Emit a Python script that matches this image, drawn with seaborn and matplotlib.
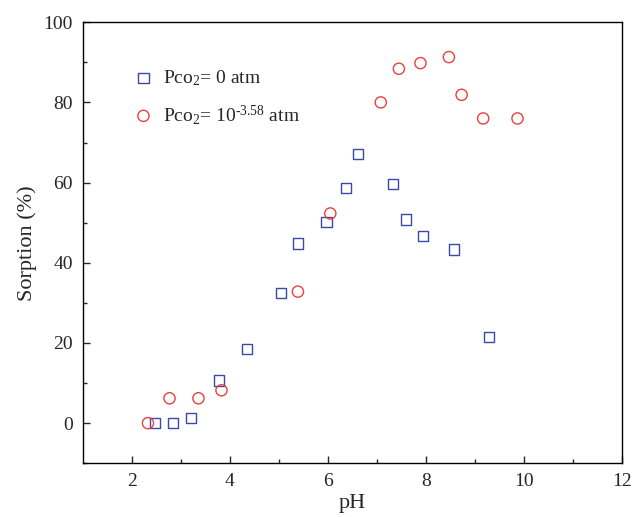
import matplotlib
matplotlib.use("Agg")
import matplotlib.pyplot as plt
import seaborn as sns
import pandas as pd

ph_co2_0 = [2.48, 2.84, 3.21, 3.78, 4.35, 5.04, 5.39, 5.97, 6.37, 6.61, 7.33, 7.59, 7.94, 8.58, 9.29]
sorp_co2_0 = [0.0, 0.0, 1.2, 10.6, 18.5, 32.4, 44.8, 50.2, 58.7, 67.1, 59.6, 50.8, 46.7, 43.3, 21.5]

ph_co2_atm = [2.33, 2.77, 3.36, 3.83, 5.39, 6.05, 7.08, 7.45, 7.89, 8.47, 8.73, 9.17, 9.87]
sorp_co2_atm = [0.0, 6.2, 6.2, 8.2, 32.8, 52.3, 80.0, 88.4, 89.8, 91.3, 81.9, 76.0, 76.0]

labels = [r"Pco$_2$= 0 atm", r"Pco$_2$= 10$^{\text{-3.58}}$ atm"]

sns.set_style("ticks")
plt.rcParams["font.family"] = ["Liberation Serif", "DejaVu Serif"]
plt.rcParams["mathtext.fontset"] = "custom"
plt.rcParams["mathtext.rm"] = "Liberation Serif"
plt.rcParams["mathtext.it"] = "Liberation Serif:italic"
plt.rcParams["mathtext.bf"] = "Liberation Serif:bold"

df0 = pd.DataFrame({"pH": ph_co2_0, "Sorption": sorp_co2_0})
df1 = pd.DataFrame({"pH": ph_co2_atm, "Sorption": sorp_co2_atm})

fig = plt.figure(figsize=(6.32, 5.17), dpi=100)
ax = fig.add_axes([0.131, 0.104, 0.853, 0.853])

sns.scatterplot(data=df0, x="pH", y="Sorption", ax=ax, marker="s", s=55,
                facecolor="none", edgecolor="#3a4aa8", linewidth=1.0, label=labels[0])
sns.scatterplot(data=df1, x="pH", y="Sorption", ax=ax, marker="o", s=65,
                facecolor="none", edgecolor="#e8423a", linewidth=1.0, label=labels[1])

ax.set_xlim(1, 12)
ax.set_ylim(-10, 100)
ax.set_xticks([2, 4, 6, 8, 10, 12])
ax.set_xticks([3, 5, 7, 9, 11], minor=True)
ax.set_yticks([0, 20, 40, 60, 80, 100])
ax.set_yticks([-10, 10, 30, 50, 70, 90], minor=True)
ax.tick_params(axis="both", which="major", direction="in", length=5, width=1, labelsize=14, pad=7)
ax.tick_params(axis="both", which="minor", direction="in", length=3, width=1)
ax.tick_params(top=False, right=False)
for sp in ax.spines.values():
    sp.set_linewidth(1.0)
    sp.set_color("black")

ax.set_xlabel("pH", fontsize=16, labelpad=3)
ax.set_ylabel("Sorption (%)", fontsize=16, labelpad=5)

leg = ax.legend(loc="upper left", bbox_to_anchor=(0.062, 0.935), frameon=False,
                fontsize=14, handlelength=1.0, handletextpad=0.5,
                labelspacing=0.75, markerscale=1.0)

fig.savefig("out.png", dpi=100)
